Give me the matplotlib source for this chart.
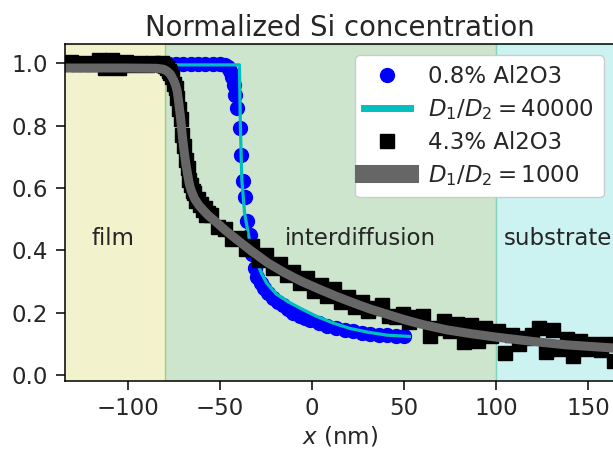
import numpy as np
import matplotlib
matplotlib.use('Agg')
import matplotlib.pyplot as plt
from matplotlib.lines import Line2D

# 0.8% Al2O3 measured profile
x_low = [-134, -130, -126, -122, -118, -114, -110, -106, -102, -98, -94, -90,
         -86, -82, -78, -74, -70, -66, -62, -58, -54, -50,
         -47.3, -45.9, -44.5, -43.6, -42.7, -41.8,
         -40.6, -39.4, -38.5, -37.6, -36.5, -35.3, -33.8, -32.5, -31.2, -29.7,
         -27.9, -26.0, -24.1, -21.4, -18.6, -15.8, -13.0, -10.2, -6.5, -3.7, -0.9,
         3.7, 8.3, 13.0, 17.6, 22.2, 26.9, 31.5, 36.2, 40.8, 45.4, 50.1]
y_low = [0.998, 0.999, 0.997, 0.998, 1.000, 0.998, 0.997, 0.999, 0.998, 0.997, 0.999, 0.998,
         0.997, 0.999, 0.998, 0.997, 0.999, 0.998, 0.997, 0.998, 0.999, 0.997,
         0.995, 0.988, 0.975, 0.955, 0.930, 0.900,
         0.856, 0.791, 0.706, 0.624, 0.572, 0.495, 0.449, 0.390, 0.345, 0.315,
         0.295, 0.280, 0.262, 0.248, 0.236, 0.224, 0.212, 0.200, 0.190, 0.183, 0.176,
         0.166, 0.158, 0.151, 0.146, 0.140, 0.136, 0.132, 0.130, 0.128, 0.126, 0.125]

# D1/D2 = 40000 model
x_m1 = [-135, -39.5, -39.0, -38.2, -36.7, -33.8, -30.6, -27.4, -24.7, -19.5, -13.0, -6.6,
        1.8, 11.4, 20.4, 29.9, 40.8, 52.9]
y_m1 = [0.995, 0.995, 0.80, 0.626, 0.52, 0.424, 0.37, 0.325, 0.295, 0.26, 0.235, 0.215,
        0.19, 0.167, 0.15, 0.138, 0.128, 0.124]

# 4.3% Al2O3 measured profile
x_high = [-134.5, -130.8, -127.1, -123.4, -119.7, -116.0, -112.3, -108.6, -104.8, -101.1,
          -97.4, -93.7, -90.0, -86.3, -82.6,
          -81.7, -80.8, -79.8, -78.9, -78.0, -77.0, -76.1, -75.2, -74.2, -73.3, -72.4, -71.4,
          -70.5, -69.6, -68.7, -67.7, -66.8, -65.9, -64.9, -64.0, -63.1, -62.1, -61.2, -60.3,
          -59.4, -58.4, -57.5, -56.6,
          -54.8, -51.1, -47.3, -43.6, -39.9, -36.2, -32.5, -28.8, -25.1, -21.4, -17.7, -13.9,
          -10.2, -6.5, -2.8, 0.9, 4.6, 8.3, 12.0, 15.8, 19.5, 23.2, 26.9, 30.6, 34.3, 38.0,
          41.8, 45.5, 49.2, 52.9, 56.6, 60.3, 64.0, 67.7, 71.5, 75.2, 78.9, 82.6, 86.3, 90.0,
          93.7, 97.4, 101.2, 104.9, 108.6, 112.3, 116.0, 119.7, 123.4, 127.2, 130.9, 134.6,
          138.3, 142.0, 145.7, 149.4, 153.2, 156.9, 160.6, 164.3]
y_high = [1.000, 1.003, 0.997, 1.002, 0.998, 1.010, 0.986, 1.011, 0.985, 1.003,
          0.996, 1.002, 0.995, 1.000, 0.998,
          1.002, 0.995, 0.990, 0.985, 0.975, 0.970, 0.955, 0.935, 0.920, 0.890, 0.855, 0.820,
          0.770, 0.735, 0.690, 0.665, 0.625, 0.610, 0.590, 0.585, 0.560, 0.565, 0.545, 0.550,
          0.530, 0.535, 0.515, 0.520,
          0.515, 0.475, 0.470, 0.435, 0.440, 0.405, 0.415, 0.370, 0.385, 0.345, 0.355, 0.320,
          0.330, 0.295, 0.310, 0.270, 0.290, 0.255, 0.275, 0.235, 0.250, 0.220, 0.235, 0.205,
          0.215, 0.225, 0.190, 0.185, 0.195, 0.170, 0.185, 0.190, 0.125, 0.150, 0.175, 0.140,
          0.165, 0.105, 0.160, 0.110, 0.150, 0.125, 0.140, 0.070, 0.130, 0.100, 0.120, 0.130,
          0.150, 0.075, 0.145, 0.085, 0.115, 0.060, 0.110, 0.085, 0.100, 0.080, 0.100, 0.045]

# D1/D2 = 1000 model
x_m2 = [-135, -103, -84.4, -80.7, -78.9, -77.0, -75.2, -74.2, -73.3, -72.4, -71.4, -70.5,
        -69.6, -68.7, -67.7, -66.8, -65.9, -64.0, -61.2, -56.6, -52.0, -47.3, -42.7, -33.4,
        -24.1, -14.9, -5.6, 3.7, 13.0, 22.2, 31.5, 40.8, 50.1, 59.4, 73.3, 87.2, 101.1,
        119.7, 138.2, 166.0]
y_m2 = [0.985, 0.985, 0.984, 0.981, 0.975, 0.965, 0.945, 0.93, 0.91, 0.87, 0.82, 0.765,
        0.72, 0.68, 0.645, 0.615, 0.595, 0.567, 0.542, 0.513, 0.49, 0.465, 0.443, 0.40,
        0.36, 0.328, 0.30, 0.276, 0.253, 0.232, 0.212, 0.195, 0.178, 0.163, 0.145, 0.132, 0.121,
        0.108, 0.097, 0.086]

region_names = ['film', 'interdiffusion', 'substrate']
region_edges = [(-140, -80), (-80, 100), (100, 200)]
region_colors = ['y', 'g', 'c']
region_text_x = [-120, -15, 104]

plt.rcParams['font.size'] = 16.5

fig = plt.figure(figsize=(6.13, 4.5), dpi=100)
ax = fig.add_axes([65 / 613, 69.3 / 450, 550 / 613, 336.7 / 450])

for (x0, x1), col, name, xt in zip(region_edges, region_colors, region_names, region_text_x):
    ax.axvspan(x0, x1, color=col, alpha=0.2)
    ax.text(xt, 0.417, name, va='baseline', ha='left', color='0.15')

ax.plot(x_low, y_low, 'bo', ms=10)
ax.plot(x_m1, y_m1, 'c-', lw=2.3)
ax.plot(x_high, y_high, 'ks', ms=10)
ax.plot(x_m2, y_m2, '-', color='0.4', lw=6.5)

ax.set_xlim(-134.3, 164.6)
ax.set_ylim(-0.018, 1.062)
ax.set_xticks([-100, -50, 0, 50, 100, 150])
ax.set_yticks([0.0, 0.2, 0.4, 0.6, 0.8, 1.0])
ax.tick_params(length=6.5, width=1.1, pad=5.5, labelcolor='0.15')
for sp in ax.spines.values():
    sp.set_linewidth(1.1)
ax.set_xlabel('$x$ (nm)', labelpad=3, color='0.15')
ax.set_title('Normalized Si concentration', color='0.15')

handles = [Line2D([], [], ls='', marker='o', color='b', ms=10),
           Line2D([], [], color='c', lw=5),
           Line2D([], [], ls='', marker='s', color='k', ms=10),
           Line2D([], [], color='0.4', lw=13)]
labels = ['0.8% Al2O3', '$D_1/D_2=40000$', '4.3% Al2O3', '$D_1/D_2=1000$']
leg = ax.legend(handles, labels, loc='upper right', framealpha=1.0, labelspacing=0.4)
for t in leg.get_texts():
    t.set_color('0.15')

fig.savefig('out.png', dpi=100)
